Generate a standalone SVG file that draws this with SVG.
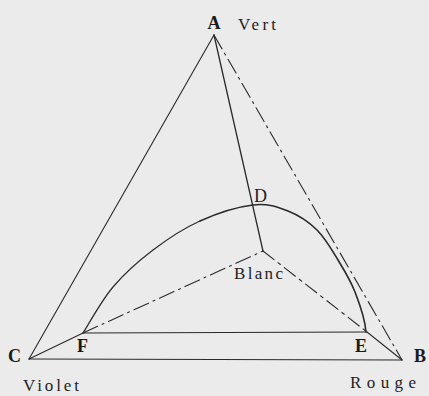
<svg xmlns="http://www.w3.org/2000/svg" width="429" height="396" viewBox="0 0 429 396">
<style>
.ln{fill:none;stroke:#2a2a2a;stroke-width:1.1;stroke-linecap:round}
.dd{stroke-dasharray:16 5 2 5}
.ds{stroke-dasharray:14 5 3 5}
.lb{font-family:"Liberation Serif",serif;fill:#222;font-size:17px}
.pt{font-family:"Liberation Serif",serif;fill:#1a1a1a;font-size:18px;font-weight:bold}
</style>
<rect width="429" height="396" fill="#ebebeb"/>
<g id="connectors">
<line class="ln" x1="214" y1="35" x2="29" y2="359"/>
<line class="ln dd" x1="214" y1="35" x2="402" y2="360"/>
<line class="ln" x1="29" y1="359" x2="402" y2="360"/>
<line class="ln" x1="214" y1="35" x2="263" y2="251" style="stroke-width:1.3"/>
<line class="ln" x1="29" y1="359" x2="83" y2="333"/>
<line class="ln dd" x1="83" y1="333" x2="263" y2="251"/>
<line class="ln ds" x1="263" y1="251" x2="367" y2="332"/>
<line class="ln" x1="367" y1="332" x2="402" y2="360"/>
<line class="ln" x1="83" y1="333" x2="367" y2="332"/>
<path class="ln" d="M83,333 C88,325.3 101.3,300.8 113,287 C124.7,273.2 138.5,261 153,250 C167.5,239 183.3,228.5 200,221" style="stroke-width:1.2"/>
<path class="ln" d="M200,221 C216.7,213.5 238.3,206.7 253,205 C267.7,203.3 277.3,206.8 288,211 C298.7,215.2 308.7,221.8 317,230 C325.3,238.2 331.7,249.7 338,260 C344.3,270.3 350.3,280 355,292 C359.7,304 365,318 366,332" style="stroke-width:1.6"/>
</g>
<g id="A"><text class="pt" x="214" y="29" text-anchor="middle">A</text><text class="lb" x="238" y="30" textLength="38" lengthAdjust="spacing">Vert</text></g>
<g id="B"><text class="pt" x="414" y="362">B</text><text class="lb" x="350" y="388" textLength="66" lengthAdjust="spacing">Rouge</text></g>
<g id="C"><text class="pt" x="8" y="362">C</text><text class="lb" x="23" y="391" textLength="56" lengthAdjust="spacing">Violet</text></g>
<g id="D"><text class="lb" x="254" y="202" style="font-size:18px">D</text></g>
<g id="E"><text class="pt" x="355" y="352">E</text></g>
<g id="F"><text class="pt" x="77" y="352">F</text></g>
<g id="Blanc"><text class="lb" x="234" y="279" textLength="49" lengthAdjust="spacing">Blanc</text></g>
</svg>
